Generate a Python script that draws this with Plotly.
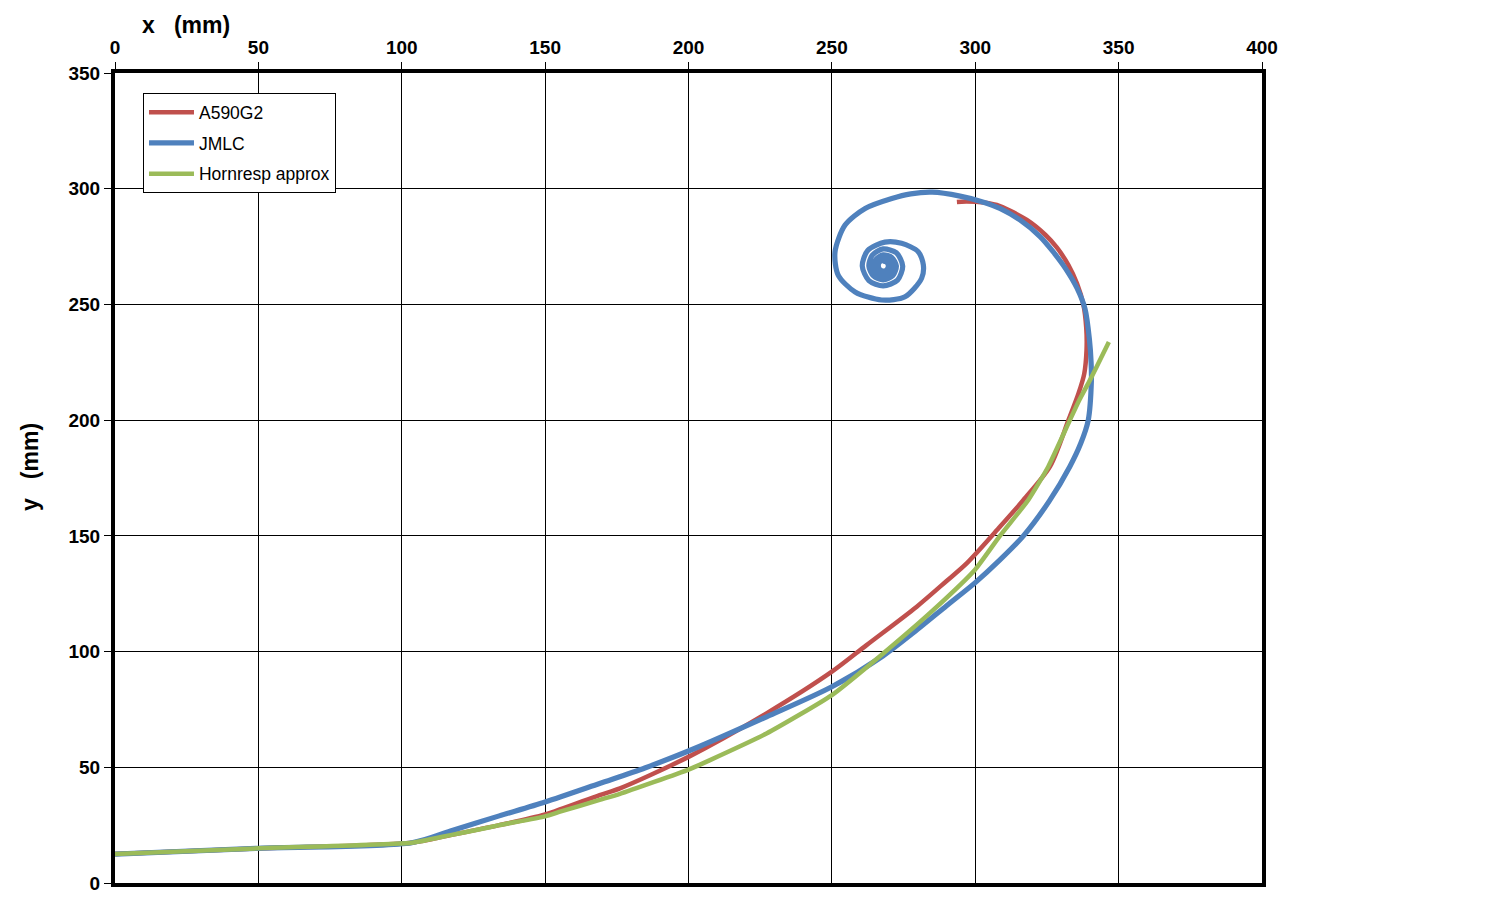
import plotly.graph_objects as go

# A590G2 (red)
a590_x = [0, 50, 103.5, 117, 134, 150, 169, 176.1, 200, 227.2, 250, 262.1, 279.6, 290,
          297, 308.6, 316.8, 326.1, 332.5, 336, 338, 338.8, 338.7, 337.7, 335.5, 332.5,
          328.5, 324.5, 318, 308.6, 303, 297, 293.6]
a590_y = [12.5, 15, 17.4, 20.7, 25, 29.6, 38, 40.9, 54.5, 73.3, 91.3, 102.8, 119.4, 130.5,
          138.1, 153.9, 165.5, 180, 200, 211.5, 220, 230, 240, 250, 259, 267,
          274.5, 280, 286.5, 292.5, 294, 294.5, 294.3]

# JMLC (blue)
jmlc_x = [0, 50, 103.5, 117, 134, 150, 169, 185, 204, 227.2, 250, 267.9, 279.6, 290,
          300, 308.6, 316.8, 325.8, 333, 336.8, 339.4, 340.5, 340.4, 339.8, 338.3, 335.5,
          331.5, 327, 322.6, 315.6, 308.6, 302, 294.7, 285, 277.5, 270.9, 261.6, 254.6,
          251.1, 252.2, 258.1, 267.4, 275.5, 281.3, 281.9, 280.1, 274.3, 268.5, 262.5,
          260.6, 262.9, 267.9, 272.9, 274.7, 272.5, 267.9, 264.1, 262.9, 264.5, 267.9,
          271.3, 272.5, 270.9, 267.9, 265.5, 264.6, 265.7, 267.9, 270.0, 270.7, 269.7,
          267.9, 266.6, 266.2, 266.7, 267.9, 269.2, 269.7, 269.2, 267.9]
jmlc_y = [12.5, 15, 17.4, 22.5, 29, 35, 43, 49.8, 59.1, 71.8, 84.8, 98.2, 109.3, 119.8,
          129.8, 139.6, 150, 165, 180, 190, 200, 217, 225, 235, 248, 257,
          265.5, 273, 279.3, 286.5, 291.5, 294.5, 296.8, 298.5, 297.8, 295.8, 291.5, 284.3,
          272.7, 262.7, 255.4, 251.9, 253.3, 261.3, 267.1, 272.8, 276.4, 276.9, 273.3,
          266.6, 260.3, 258.0, 260.5, 266.6, 272.3, 274.0, 271.3, 266.6, 262.3, 260.6,
          262.5, 266.6, 270.3, 271.4, 269.7, 266.6, 263.9, 262.7, 264.0, 266.6, 268.7,
          269.2, 268.3, 266.6, 265.1, 264.4, 265.1, 266.6, 268.1, 268.8]

# Hornresp approx (green)
horn_x = [0, 50, 103.5, 117, 127.3, 134, 150, 155.2, 169, 176.1, 200, 207.5, 227.2, 250,
          267.9, 285.4, 300, 308.6, 318.5, 325.5, 333, 336.3, 340, 342.3, 346.6]
horn_y = [12.5, 15, 17.4, 20.7, 23.2, 25, 28.8, 30.8, 35.9, 38.5, 49, 53.1, 64.6, 81.2,
          99.2, 118, 135.5, 150, 165.5, 180, 200, 208.7, 217.3, 223, 233.8]

x_ticks = [0, 50, 100, 150, 200, 250, 300, 350, 400]
y_ticks = [0, 50, 100, 150, 200, 250, 300, 350]

FONT = 'Arial, Liberation Sans, sans-serif'

fig = go.Figure()

fig.add_trace(go.Scatter(x = a590_x, y = a590_y, mode = 'lines', name = 'A590G2',
                         line = dict(color = '#C0504D', width = 4.5, shape = 'spline', smoothing = 0.8),
                         legendgroup = 'a'))
fig.add_trace(go.Scatter(x = jmlc_x, y = jmlc_y, mode = 'lines', name = 'JMLC',
                         line = dict(color = '#4F81BD', width = 5.2, shape = 'spline', smoothing = 0.8),
                         legendgroup = 'b'))
fig.add_trace(go.Scatter(x = horn_x, y = horn_y, mode = 'lines', name = 'Hornresp approx',
                         line = dict(color = '#9BBB59', width = 4.5, shape = 'spline', smoothing = 0.5),
                         legendgroup = 'c'))

axis_common = dict(
    showgrid = True, gridcolor = 'black', gridwidth = 1,
    showline = True, linecolor = 'black', linewidth = 4, mirror = True,
    ticks = 'outside', ticklen = 7, tickcolor = 'black', tickwidth = 1,
    tickfont = dict(family = FONT, size = 19, color = 'black', weight = 'bold'),
    zeroline = False, automargin = False,
)

fig.update_xaxes(range = [0, 400], tickvals = x_ticks, side = 'top', **axis_common)
fig.update_yaxes(range = [0, 350], tickvals = y_ticks, **axis_common)

# page body adds ~8px offset, margins compensate for it
fig.update_layout(
    width = 1497, height = 923,
    margin = dict(l = 107, r = 243, t = 65, b = 48),
    paper_bgcolor = 'white', plot_bgcolor = 'white',
    font = dict(family = FONT, color = 'black'),
    showlegend = True,
    legend = dict(
        x = 0.0244, y = 0.975, xanchor = 'left', yanchor = 'top',
        bgcolor = 'white', bordercolor = 'black', borderwidth = 1,
        font = dict(family = FONT, size = 17.5, color = 'black'),
        tracegroupgap = 5, itemwidth = 45,
    ),
    annotations = [
        dict(text = '<b>x\u00a0\u00a0\u00a0(mm)</b>', xref = 'paper', yref = 'paper',
             x = 0.0218, y = 1.059, xanchor = 'left', yanchor = 'middle', showarrow = False,
             font = dict(family = FONT, size = 23, color = 'black')),
        dict(text = '<b>y\u00a0\u00a0\u00a0(mm)</b>', xref = 'paper', yref = 'paper',
             x = -0.074, y = 0.5136, xanchor = 'center', yanchor = 'middle', showarrow = False,
             textangle = -90, font = dict(family = FONT, size = 23, color = 'black')),
    ],
)

fig.write_html("out.html")
